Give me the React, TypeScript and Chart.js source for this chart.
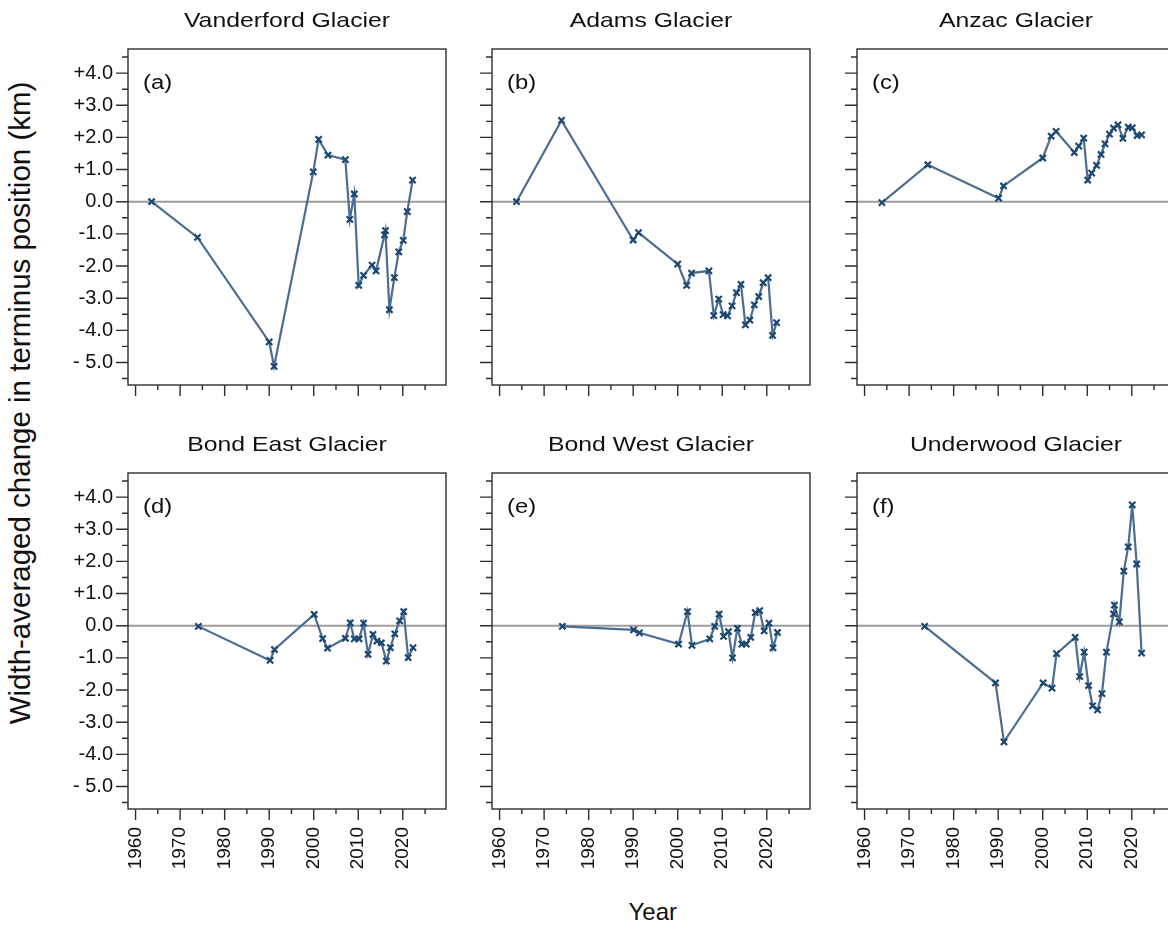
import React, { useEffect, useRef } from 'react';
import { Chart, registerables } from 'chart.js';

Chart.register(...registerables);

// ---- data: width-averaged terminus change (km) by year ----
const vanderfordYears = [1963.6, 1973.9, 1990.0, 1991.1, 1999.9, 2001.1, 2003.2, 2007.1, 2008.1, 2009.1, 2010.1, 2011.2, 2013.1, 2014.0, 2015.9, 2016.1, 2017.0, 2018.1, 2019.1, 2020.1, 2021.0, 2022.2];
const vanderfordChange = [0, -1.11, -4.36, -5.12, 0.93, 1.94, 1.45, 1.31, -0.55, 0.24, -2.6, -2.29, -1.97, -2.15, -1.03, -0.9, -3.36, -2.36, -1.56, -1.2, -0.31, 0.67];

const adamsYears = [1963.8, 1973.9, 1990.0, 1991.2, 2000.0, 2002.0, 2003.1, 2007.0, 2008.1, 2009.2, 2010.2, 2011.2, 2012.2, 2013.2, 2014.2, 2015.2, 2016.2, 2017.2, 2018.2, 2019.2, 2020.3, 2021.3, 2022.2];
const adamsChange = [0, 2.53, -1.19, -0.96, -1.94, -2.6, -2.22, -2.15, -3.54, -3.03, -3.51, -3.55, -3.24, -2.83, -2.57, -3.83, -3.68, -3.21, -2.95, -2.52, -2.36, -4.16, -3.76];

const anzacYears = [1963.9, 1974.2, 1990.1, 1991.2, 2000.0, 2001.9, 2003.0, 2007.1, 2008.1, 2009.2, 2010.1, 2011.0, 2012.1, 2013.1, 2014.0, 2015.0, 2015.9, 2016.9, 2018.0, 2019.2, 2020.1, 2021.2, 2022.2];
const anzacChange = [-0.03, 1.15, 0.11, 0.49, 1.36, 2.04, 2.19, 1.53, 1.73, 1.98, 0.67, 0.89, 1.13, 1.47, 1.8, 2.1, 2.29, 2.39, 1.97, 2.32, 2.3, 2.06, 2.08];

const bondEastYears = [1974.1, 1990.2, 1991.2, 2000.1, 2002.0, 2003.1, 2007.1, 2008.2, 2009.1, 2010.2, 2011.2, 2012.2, 2013.3, 2014.2, 2015.2, 2016.3, 2017.2, 2018.2, 2019.3, 2020.2, 2021.2, 2022.3];
const bondEastChange = [-0.02, -1.08, -0.74, 0.35, -0.4, -0.7, -0.39, 0.09, -0.41, -0.41, 0.08, -0.89, -0.27, -0.48, -0.53, -1.1, -0.68, -0.25, 0.15, 0.44, -0.99, -0.68];

const bondWestYears = [1974.1, 1990.1, 1991.4, 2000.2, 2002.2, 2003.2, 2007.2, 2008.3, 2009.3, 2010.3, 2011.4, 2012.3, 2013.4, 2014.4, 2015.4, 2016.4, 2017.4, 2018.4, 2019.4, 2020.5, 2021.4, 2022.4];
const bondWestChange = [-0.02, -0.13, -0.22, -0.57, 0.44, -0.61, -0.41, -0.02, 0.36, -0.33, -0.18, -1.0, -0.08, -0.57, -0.57, -0.36, 0.41, 0.47, -0.16, 0.08, -0.69, -0.21];

const underwoodYears = [1973.5, 1989.4, 1991.3, 2000.1, 2002.1, 2003.1, 2007.3, 2008.3, 2009.3, 2010.3, 2011.2, 2012.3, 2013.3, 2014.3, 2015.9, 2016.1, 2017.2, 2018.2, 2019.2, 2020.1, 2021.1, 2022.2];
const underwoodChange = [-0.02, -1.78, -3.61, -1.78, -1.94, -0.87, -0.36, -1.58, -0.82, -1.86, -2.49, -2.62, -2.11, -0.82, 0.37, 0.64, 0.12, 1.7, 2.45, 3.76, 1.92, -0.85];

// ---- axes ----
const YEAR_TICKS = [1960, 1970, 1980, 1990, 2000, 2010, 2020];
const YEAR_MINOR = [1965, 1975, 1985, 1995, 2005, 2015, 2025];
const KM_TICKS = [-5, -4, -3, -2, -1, 0, 1, 2, 3, 4];
const KM_LABELS = ['- 5.0', '-4.0', '-3.0', '-2.0', '-1.0', '0.0', '+1.0', '+2.0', '+3.0', '+4.0'];
const KM_MINOR = [-5.5, -4.5, -3.5, -2.5, -1.5, -0.5, 0.5, 1.5, 2.5, 3.5, 4.5];
const X_MIN = 1958.3;
const X_MAX = 2029.7;
const Y_MIN = -5.7;
const Y_MAX = 4.75;

// ---- look ----
const FONT = '"Liberation Sans", Arial, Helvetica, sans-serif';
const LINE_COLOR = '#4a6d92';
const MARK_COLOR = '#1c4770';
const FRAME_COLOR = '#2e2e2e';
const ZERO_COLOR = '#9c9c9c';
const TEXT_COLOR = '#111111';

// plot box geometry (the top pad leaves room for the y-scale's own label padding)
const BOX_W = 318;
const BOX_H = 336;
const PAD_L = 80;
const PAD_T = 36;
const PAD_R = 10;
const PAD_B = 70;
const CANVAS_W = PAD_L + BOX_W + PAD_R;
const CANVAS_H = PAD_T + BOX_H + PAD_B;
const COL_LEFT = [128, 492, 857];
const ROW_TOP = [49, 473];

type Panel = {
  title: string;
  tag: string;
  years: number[];
  change: number[];
  col: number;
  row: number;
};

const PANELS: Panel[] = [
  { title: 'Vanderford Glacier', tag: '(a)', years: vanderfordYears, change: vanderfordChange, col: 0, row: 0 },
  { title: 'Adams Glacier', tag: '(b)', years: adamsYears, change: adamsChange, col: 1, row: 0 },
  { title: 'Anzac Glacier', tag: '(c)', years: anzacYears, change: anzacChange, col: 2, row: 0 },
  { title: 'Bond East Glacier', tag: '(d)', years: bondEastYears, change: bondEastChange, col: 0, row: 1 },
  { title: 'Bond West Glacier', tag: '(e)', years: bondWestYears, change: bondWestChange, col: 1, row: 1 },
  { title: 'Underwood Glacier', tag: '(f)', years: underwoodYears, change: underwoodChange, col: 2, row: 1 },
];

// zero reference line, frame and outward tick marks
const framePlugin = {
  id: 'frame',
  beforeDatasetsDraw(chart: any) {
    const { ctx, chartArea: a, scales } = chart;
    const y0 = scales.y.getPixelForValue(0);
    ctx.save();
    ctx.strokeStyle = ZERO_COLOR;
    ctx.lineWidth = 2;
    ctx.beginPath();
    ctx.moveTo(a.left, y0);
    ctx.lineTo(a.right, y0);
    ctx.stroke();
    ctx.restore();
  },
  afterDraw(chart: any) {
    const { ctx, chartArea: a, scales } = chart;
    ctx.save();
    ctx.strokeStyle = FRAME_COLOR;
    ctx.lineWidth = 1.4;
    ctx.strokeRect(a.left, a.top, a.right - a.left, a.bottom - a.top);
    ctx.beginPath();
    KM_TICKS.forEach((v) => {
      const p = scales.y.getPixelForValue(v);
      ctx.moveTo(a.left, p);
      ctx.lineTo(a.left - 12, p);
    });
    KM_MINOR.forEach((v) => {
      const p = scales.y.getPixelForValue(v);
      ctx.moveTo(a.left, p);
      ctx.lineTo(a.left - 6, p);
    });
    YEAR_TICKS.forEach((v) => {
      const p = scales.x.getPixelForValue(v);
      ctx.moveTo(p, a.bottom);
      ctx.lineTo(p, a.bottom + 11);
    });
    YEAR_MINOR.forEach((v) => {
      const p = scales.x.getPixelForValue(v);
      ctx.moveTo(p, a.bottom);
      ctx.lineTo(p, a.bottom + 5);
    });
    ctx.stroke();
    ctx.restore();
  },
};

function GlacierChart({ panel }: { panel: Panel }) {
  const ref = useRef<HTMLCanvasElement | null>(null);
  const showY = panel.col === 0;
  const showX = panel.row === 1;

  useEffect(() => {
    if (!ref.current) return;
    const points = panel.years.map((yr, i) => ({ x: yr, y: panel.change[i] }));
    const chart = new Chart(ref.current, {
      type: 'line',
      data: {
        datasets: [
          {
            data: points,
            borderColor: LINE_COLOR,
            borderWidth: 2.2,
            tension: 0,
            fill: false,
            pointStyle: 'crossRot',
            pointRadius: 4.4,
            pointBorderWidth: 2.2,
            pointBorderColor: MARK_COLOR,
            pointBackgroundColor: MARK_COLOR,
          },
        ],
      },
      options: {
        animation: false,
        responsive: false,
        maintainAspectRatio: false,
        devicePixelRatio: 1,
        events: [],
        layout: { padding: { left: 0, top: PAD_T, right: PAD_R, bottom: 0 } },
        plugins: {
          legend: { display: false },
          tooltip: { enabled: false },
          title: { display: false },
        },
        scales: {
          x: {
            type: 'linear',
            min: X_MIN,
            max: X_MAX,
            grid: { display: false, drawTicks: false },
            border: { display: false },
            ticks: {
              display: showX,
              autoSkip: false,
              minRotation: 90,
              maxRotation: 90,
              padding: 18,
              color: TEXT_COLOR,
              font: { family: FONT, size: 19 },
              callback: (v: any) => String(v),
            },
            afterBuildTicks: (s: any) => {
              s.ticks = YEAR_TICKS.map((v) => ({ value: v }));
            },
            afterFit: (s: any) => {
              s.height = PAD_B;
            },
          },
          y: {
            type: 'linear',
            min: Y_MIN,
            max: Y_MAX,
            grid: { display: false, drawTicks: false },
            border: { display: false },
            ticks: {
              display: showY,
              autoSkip: false,
              padding: 15,
              color: TEXT_COLOR,
              font: { family: FONT, size: 20 },
              callback: (v: any) => {
                const i = KM_TICKS.indexOf(Number(v));
                return i >= 0 ? KM_LABELS[i] : '';
              },
            },
            afterBuildTicks: (s: any) => {
              s.ticks = KM_TICKS.map((v) => ({ value: v }));
            },
            afterFit: (s: any) => {
              s.width = PAD_L;
            },
          },
        },
      },
      plugins: [framePlugin],
    } as any);
    return () => chart.destroy();
  }, [panel]);

  const boxLeft = COL_LEFT[panel.col];
  const boxTop = ROW_TOP[panel.row];
  return (
    <canvas
      ref={ref}
      width={CANVAS_W}
      height={CANVAS_H}
      style={{
        position: 'absolute',
        left: boxLeft - PAD_L,
        top: boxTop - PAD_T,
        width: CANVAS_W,
        height: CANVAS_H,
      }}
    />
  );
}

export default function App() {
  return (
    <div
      style={{
        position: 'fixed',
        left: 0,
        top: 0,
        width: 1168,
        height: 927,
        overflow: 'hidden',
        background: '#ffffff',
        fontFamily: FONT,
        color: TEXT_COLOR,
      }}
    >
      {PANELS.map((p) => (
        <GlacierChart key={p.tag} panel={p} />
      ))}
      {PANELS.map((p) => {
        const boxLeft = COL_LEFT[p.col];
        const boxTop = ROW_TOP[p.row];
        return (
          <React.Fragment key={'t' + p.tag}>
            <div
              style={{
                position: 'absolute',
                left: boxLeft + BOX_W / 2,
                top: boxTop - 40,
                fontSize: 21,
                lineHeight: 1,
                whiteSpace: 'nowrap',
                transform: 'translateX(-50%) scaleX(1.18)',
              }}
            >
              {p.title}
            </div>
            <div
              style={{
                position: 'absolute',
                left: boxLeft + 14.5,
                top: boxTop + 23,
                fontSize: 20,
                lineHeight: 1,
                whiteSpace: 'nowrap',
                transform: 'scaleX(1.19)',
                transformOrigin: 'left center',
              }}
            >
              {p.tag}
            </div>
          </React.Fragment>
        );
      })}
      <div
        style={{
          position: 'absolute',
          left: 20.3,
          top: 402.5,
          fontSize: 29.5,
          lineHeight: 1,
          whiteSpace: 'nowrap',
          transform: 'translate(-50%, -50%) rotate(-90deg)',
        }}
      >
        Width-averaged change in terminus position (km)
      </div>
      <div
        style={{
          position: 'absolute',
          left: 652.8,
          top: 899.7,
          fontSize: 24,
          lineHeight: 1,
          whiteSpace: 'nowrap',
          transform: 'translateX(-50%)',
        }}
      >
        Year
      </div>
    </div>
  );
}
